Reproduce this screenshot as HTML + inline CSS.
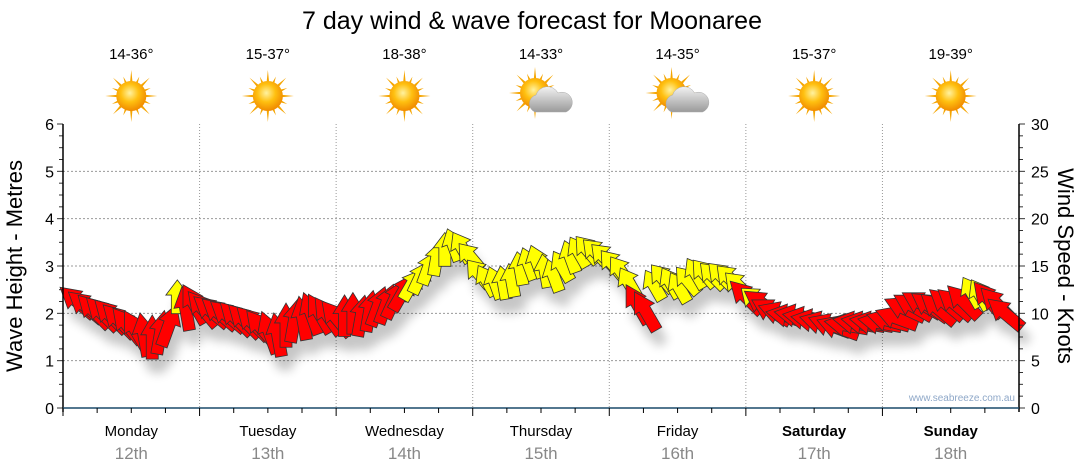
<!DOCTYPE html>
<html><head><meta charset="utf-8">
<style>
html,body{margin:0;padding:0;background:#fff;width:1080px;height:475px;overflow:hidden;font-family:"Liberation Sans",sans-serif;}
</style></head>
<body>
<svg id="chart" width="1080" height="475" xmlns="http://www.w3.org/2000/svg">
<defs>
<radialGradient id="sunG" cx="45%" cy="40%" r="60%"><stop offset="0" stop-color="#fff2a0"/><stop offset="0.5" stop-color="#ffc010"/><stop offset="1" stop-color="#f08a00"/></radialGradient>
<linearGradient id="cloudG" x1="0" y1="0" x2="0" y2="1"><stop offset="0" stop-color="#f2f2f2"/><stop offset="1" stop-color="#9a9a9a"/></linearGradient>
<filter id="shadow" x="-50%" y="-50%" width="200%" height="200%"><feGaussianBlur stdDeviation="5"/></filter>
</defs>
<text x="532" y="29" font-size="25" text-anchor="middle" fill="#000">7 day wind &amp; wave forecast for Moonaree</text>
<g id="days"></g>
<g id="grid"></g>
<g id="shadows" filter="url(#shadow)" opacity="0.22"></g>
<g id="arrows"></g>
<g id="axes"></g>
<text transform="translate(22,266) rotate(-90)" font-size="22" text-anchor="middle">Wave Height - Metres</text>
<text transform="translate(1058,266) rotate(90)" font-size="22" text-anchor="middle">Wind Speed - Knots</text>
<text x="1015" y="401" font-size="10" text-anchor="end" fill="#8fa8c8">www.seabreeze.com.au</text>
</svg>
<script>
const dayNames=["Monday","Tuesday","Wednesday","Thursday","Friday","Saturday","Sunday"];
const dayDates=["12th","13th","14th","15th","16th","17th","18th"];
const temps=["14-36°","15-37°","18-38°","14-33°","14-35°","15-37°","19-39°"];
const cloudy=[0,0,0,1,1,0,0];
const waveTicks=[0,1,2,3,4,5,6];
const windTicks=[0,5,10,15,20,25,30];
const waveHeight=[
2.25,2.15,2.05,2.0,1.95,1.85,1.75,1.65,1.55,1.5,1.6,1.75,2.35,2.1,2.2,2.1,
2.05,2.0,1.95,1.9,1.85,1.8,1.7,1.6,1.55,1.75,1.85,1.9,2.0,2.0,1.95,1.9,
1.95,2.0,1.95,2.05,2.15,2.2,2.3,2.45,2.6,2.75,2.95,3.15,3.35,3.45,3.4,3.2,
2.85,2.7,2.65,2.65,2.7,2.95,3.05,3.1,2.9,2.8,3.0,3.2,3.3,3.35,3.3,3.2,
3.05,2.9,2.65,2.2,2.05,2.6,2.75,2.65,2.55,2.7,2.85,2.85,2.8,2.8,2.75,2.6,
2.35,2.3,2.2,2.05,2.0,1.95,1.95,1.9,1.85,1.8,1.75,1.7,1.75,1.8,1.8,1.8,
1.8,1.85,1.9,2.1,2.15,2.2,2.15,2.1,2.2,2.2,2.25,2.45,2.4,2.3,2.2,2.0];
const windSpeed=[
17,17,17,17,17,17,17,17,17,17,17,17,13,17,17,17,
17,17,17,17,17,17,17,17,17,17,17,17,17,17,17,17,
16,16,16,16,16,16,16,16,13,13,13,13,13,13,13,13,
13,13,13,13,13,13,13,13,13,13,13,13,13,13,13,13,
13,13,13,17,17,13,13,13,13,13,13,13,13,13,13,13,
17,13,17,17,17,17,17,17,17,17,17,17,17,17,17,17,
17,17,17,17,17,17,17,17,17,17,17,13,13,17,17,17];
const windDir=[
-50,-50,-45,-45,-45,-45,-40,-30,-10,0,10,20,0,-10,-30,-40,
-50,-50,-50,-45,-45,-45,-40,-20,-10,0,10,-10,-20,-30,-35,-40,
0,0,10,10,20,20,25,30,30,25,20,10,0,-20,-30,-40,
-40,-30,-20,-10,-10,-10,-20,-20,-10,-20,-30,-20,-30,-40,-45,-45,
-40,-35,-30,-30,-30,-30,-40,-30,-30,-40,-30,-40,-45,-45,-45,-45,
-45,-50,-55,-60,-70,-80,-80,-80,-80,-75,-70,-70,-80,-80,-80,-80,
-80,-75,-70,-65,-60,-60,-55,-50,-50,-50,-45,-30,-30,-40,-45,-50];

const svg=document.getElementById('chart');
const NS="http://www.w3.org/2000/svg";
const X0=63,X1=1019,Y0=408,Y6=124;
const N=waveHeight.length;
const dayW=(X1-X0)/7;
const yWave=v=>Y0-(Y0-Y6)*v/6;
const yWind=v=>Y0-(Y0-Y6)*v/30;
const xTime=i=>X0+14+i*(X1-X0-28)/(N-1);
function mk(tag,attrs,parent){const e=document.createElementNS(NS,tag);for(const k in attrs)e.setAttribute(k,attrs[k]);(parent||svg).appendChild(e);return e;}

const grid=document.getElementById('grid');
const axes=document.getElementById('axes');
const days=document.getElementById('days');
waveTicks.forEach(v=>{
  if(v>0&&v<6){const l=mk('line',{x1:X0,x2:X1,y1:yWave(v),y2:yWave(v),stroke:'#999','stroke-dasharray':'2,2'},grid);
  
  }
  const t=mk('text',{x:X0-9,y:yWave(v)+6,'font-size':16,'text-anchor':'end'},axes);t.textContent=v;
  
  
});
for(let k=0;k<=24;k++){const y=Y0-(Y0-Y6)*k/24;mk('line',{x1:X0-(k%4==0?6:4),x2:X0,y1:y,y2:y,stroke:'#333'},axes);mk('line',{x1:X1,x2:X1+(k%4==0?6:4),y1:y,y2:y,stroke:'#333'},axes);}
windTicks.forEach(v=>{const t=mk('text',{x:X1+12,y:yWind(v)+6,'font-size':16},axes);t.textContent=v;
  
  });
mk('line',{x1:X0,x2:X0,y1:Y6,y2:Y0+4,stroke:'#000','stroke-width':1.5},axes);
mk('line',{x1:X1,x2:X1,y1:Y6,y2:Y0+4,stroke:'#000','stroke-width':1.5},axes);
mk('line',{x1:X0,x2:X1,y1:Y0,y2:Y0,stroke:'#1a4a6a','stroke-width':1.5},axes);
for(let d=0;d<7;d++){
  const xs=X0+d*dayW, xc=xs+dayW/2;
  if(d>0){const l=mk('line',{x1:xs,x2:xs,y1:Y6,y2:Y0,stroke:'#999','stroke-dasharray':'1,2'},grid);
  
  }
  for(let q=0;q<4;q++)mk('line',{x1:xs+q*dayW/4,x2:xs+q*dayW/4,y1:Y0,y2:Y0+(q==0?8:5),stroke:'#000'},axes);
  const n=mk('text',{x:xc,y:436,'font-size':15,'text-anchor':'middle','font-weight':d>=5?'bold':'normal'},days);n.textContent=dayNames[d];
  
  
  const dt=mk('text',{x:xc,y:459,'font-size':17,'text-anchor':'middle',fill:'#888'},days);dt.textContent=dayDates[d];
  
  
  const tp=mk('text',{x:xc,y:59,'font-size':15,'text-anchor':'middle'},days);tp.textContent=temps[d];
  
  
  const g=mk('g',{transform:`translate(${xc},96)`},days);
  
  
  const sx=cloudy[d]?-6:0, sy=cloudy[d]?-3:0;
  for(let r=0;r<16;r++){const a=r*Math.PI/8,L=r%2?21:26;mk('polygon',{points:`${sx+Math.cos(a-0.12)*12},${sy+Math.sin(a-0.12)*12} ${sx+Math.cos(a)*L},${sy+Math.sin(a)*L} ${sx+Math.cos(a+0.12)*12},${sy+Math.sin(a+0.12)*12}`,fill:'#f5a500'},g);}
  mk('circle',{cx:sx,cy:sy,r:15,fill:'url(#sunG)'},g);
  if(cloudy[d]){mk('path',{d:'M-6,16 a9,9 0 0 1 1,-17 a12,12 0 0 1 22,-2 a9,9 0 0 1 8,19 z',fill:'url(#cloudG)',stroke:'#aaa','stroke-width':0.5},g);}
}
const shadows=document.getElementById('shadows');
const arrows=document.getElementById('arrows');
waveHeight.forEach((h,i)=>{
  const s=windSpeed[i], L=s*2.6, bw=6, hw=11.5, hl=L*0.45;
  const pts=`${-bw},${L/2} ${-bw},${-L/2+hl} ${-hw},${-L/2+hl} 0,${-L/2} ${hw},${-L/2+hl} ${bw},${-L/2+hl} ${bw},${L/2}`;
  const x=xTime(i), y=yWave(h);
  mk('polygon',{points:pts,fill:'#000',transform:`translate(${x+6},${y+14}) rotate(${windDir[i]})`},shadows);
  const a=mk('polygon',{points:pts,fill:s>=15?'#ff0000':'#ffff00',stroke:'#333','stroke-width':0.8,transform:`translate(${x},${y}) rotate(${windDir[i]})`},arrows);
  
  
});
</script>
</body></html>
